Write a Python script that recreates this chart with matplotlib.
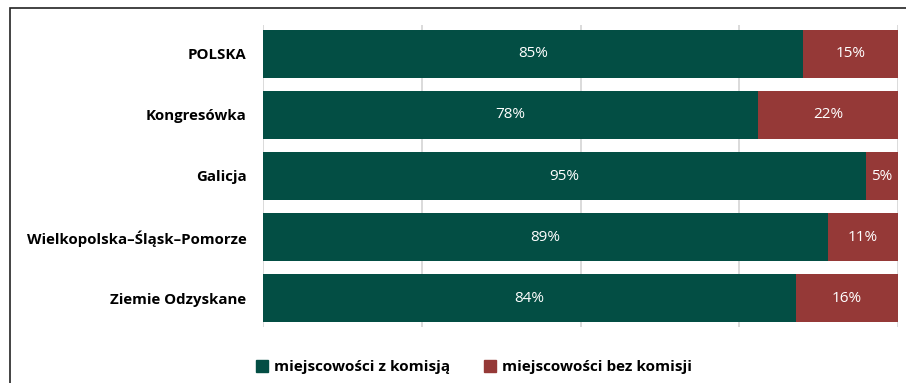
import matplotlib.pyplot as plt
import numpy as np
from matplotlib.patches import Rectangle, Patch

plt.rcParams["font.family"] = ["Open Sans", "DejaVu Sans"]

# ----------------------------------------
# Data: share of localities with / without commission
# ----------------------------------------
regions = ["POLSKA", "Kongresówka", "Galicja",
           "Wielkopolska\u2013Śląsk\u2013Pomorze", "Ziemie Odzyskane"]
z_komisja = [85, 78, 95, 89, 84]
bez_komisji = [15, 22, 5, 11, 16]

green = "#034E44"
red = "#953937"

fig = plt.figure(figsize=(9.06, 3.83), dpi=100)
ax = fig.add_axes([263/906, 1 - 327/383, (898 - 263)/906, (327 - 25)/383])

y = np.arange(len(regions))
ax.barh(y, z_komisja, height=0.79, color=green, zorder=3)
ax.barh(y, bez_komisji, left=z_komisja, height=0.79, color=red, zorder=3)

for yi, a, b in zip(y, z_komisja, bez_komisji):
    ax.text(a / 2, yi, f"{a}%", ha="center", va="center", color="white", fontsize=11, zorder=4)
    ax.text(a + b / 2, yi, f"{b}%", ha="center", va="center", color="white", fontsize=11, zorder=4)

ax.set_xlim(0, 100)
ax.set_ylim(4.475, -0.475)
ax.set_xticks([0, 25, 50, 75, 100])
ax.set_xticklabels([])
ax.tick_params(axis="x", length=0)
ax.tick_params(axis="y", length=0, pad=12)
ax.set_yticks(y)
ax.set_yticklabels(regions, fontsize=10.8, fontweight="bold")
ax.grid(axis="x", color="#d4d4d4", linewidth=1.2, zorder=0)
for s in ax.spines.values():
    s.set_visible(False)

# chart frame (cut on right and bottom)
fig.patches.append(Rectangle((10/906, -0.1), 1.1, 1.1 - 8/383, transform=fig.transFigure,
                             fill=False, edgecolor="#222222", linewidth=1.2))

handles = [Patch(color=green, label="miejscowości z komisją"),
           Patch(color=red, label="miejscowości bez komisji")]
leg = fig.legend(handles=handles, loc="center", bbox_to_anchor=(474/906, 1 - 367/383),
                 ncol=2, frameon=False, handlelength=0.8, handleheight=0.8,
                 handletextpad=0.4, columnspacing=2.2, prop={"size": 11, "weight": "bold"})

fig.savefig("out.png", dpi=100)
